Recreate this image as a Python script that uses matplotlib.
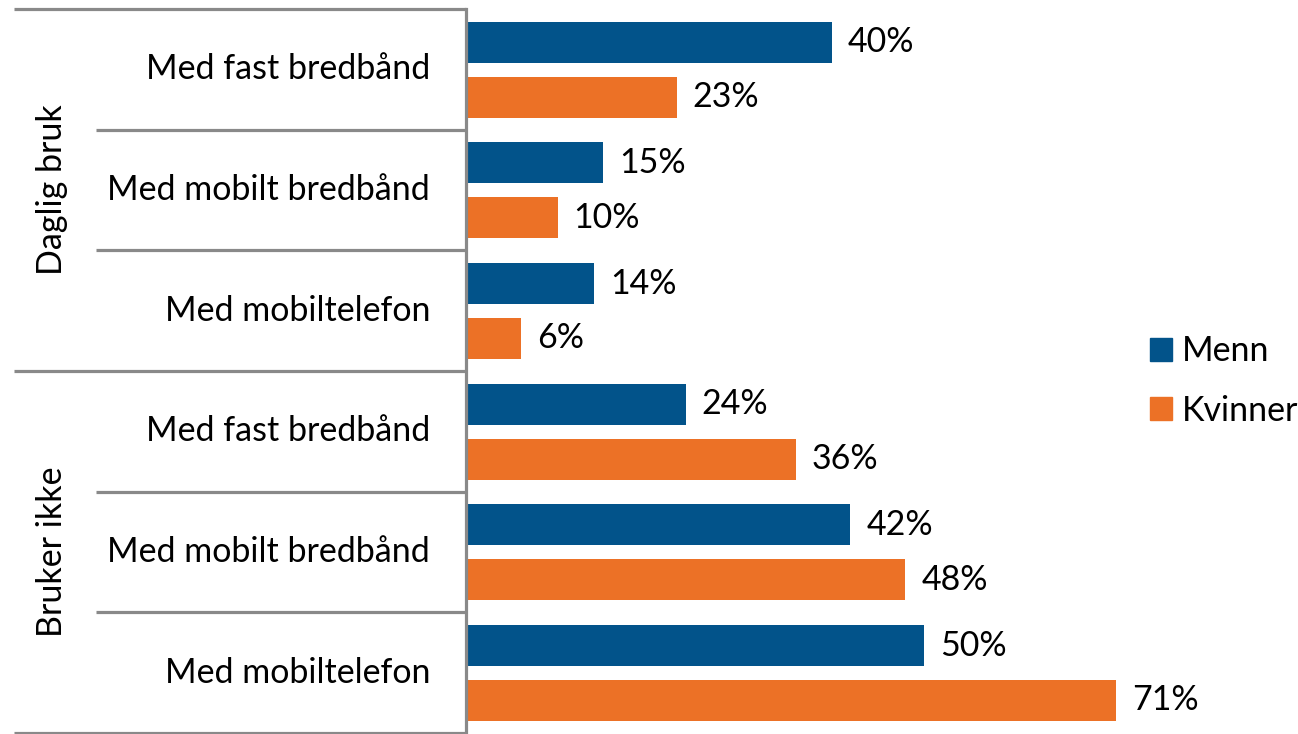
import numpy as np
import matplotlib.pyplot as plt
from matplotlib.patches import Patch

# Data (percent)
groups = ['Daglig bruk', 'Bruker ikke']
items = ['Med fast bredbånd', 'Med mobilt bredbånd', 'Med mobiltelefon']
menn = [40, 15, 14, 24, 42, 50]
kvinner = [23, 10, 6, 36, 48, 71]
series_names = ['Menn', 'Kvinner']

blue = '#02538A'
orange = '#EC7126'
grey = '#898989'
fs = 24.5

plt.rcParams['font.family'] = ['Lato', 'DejaVu Sans']

fig = plt.figure(figsize=(12.98, 7.34), dpi=100)
ax = fig.add_axes([466/1298, 1/734, 659/1298, 724/734])

labels = items + items
y = np.arange(len(labels))
h = 0.34
ax.barh(y - 0.225, menn, height=h, color=blue)
ax.barh(y + 0.23, kvinner, height=h, color=orange)

for i in range(len(labels)):
    ax.text(menn[i] + 1.75, y[i] - 0.225, f'{menn[i]}%', va='center', ha='left', fontsize=fs)
    ax.text(kvinner[i] + 1.75, y[i] + 0.23, f'{kvinner[i]}%', va='center', ha='left', fontsize=fs)

ax.set_xlim(0, 72)
ax.set_ylim(5.5, -0.5)
ax.set_xticks([])
ax.set_yticks([])
for s in ['top', 'right', 'bottom']:
    ax.spines[s].set_visible(False)
ax.spines['left'].set_color(grey)
ax.spines['left'].set_linewidth(2.3)

# hierarchical category labels on the left
tr = ax.get_yaxis_transform()
x_item = (96 - 466) / 659
x_group = (14 - 466) / 659
for b in np.arange(-0.5, 6, 1.0):
    x0 = x_group if b in (-0.5, 2.5, 5.5) else x_item
    ax.plot([x0, 0], [b, b], color=grey, lw=2.3, transform=tr, clip_on=False,
            solid_capstyle='butt')

for i, lab in enumerate(labels):
    ax.text(-0.0546, y[i], lab, transform=tr, ha='right', va='center', fontsize=fs)

for g, name in enumerate(groups):
    ax.text(-0.628, 3 * g + 1, name, transform=tr, ha='center', va='center',
            rotation=90, fontsize=fs)

handles = [Patch(color=blue), Patch(color=orange)]
fig.legend(handles, series_names, loc='center left', bbox_to_anchor=(1119/1298, 1 - 381/734),
           frameon=False, fontsize=fs, handlelength=0.65, handleheight=0.65,
           handletextpad=0.3, labelspacing=0.8)

fig.savefig('out.png', dpi=100)
